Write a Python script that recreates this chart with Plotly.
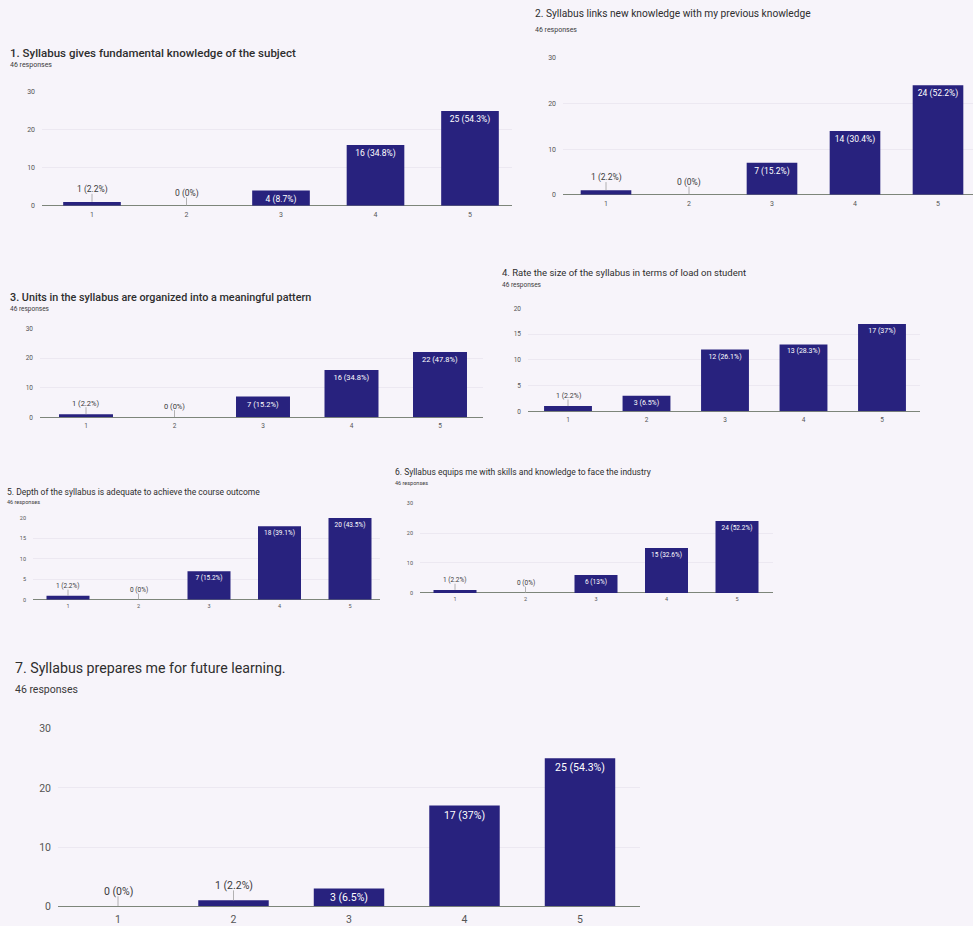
import plotly.graph_objects as go

W, H = 973, 926

categories = ["1", "2", "3", "4", "5"]

titles = [
    "1. Syllabus gives fundamental knowledge of the subject",
    "2. Syllabus links new knowledge with my previous knowledge",
    "3. Units in the syllabus are organized into a meaningful pattern",
    "4. Rate the size of the syllabus in terms of load on student",
    "5. Depth of the syllabus is adequate to achieve the course outcome",
    "6. Syllabus equips me with skills and knowledge to face the industry",
    "7. Syllabus prepares me for future learning.",
]
responses = "46 responses"

q1_counts = [1, 0, 4, 16, 25]
q1_labels = ["1 (2.2%)", "0 (0%)", "4 (8.7%)", "16 (34.8%)", "25 (54.3%)"]
q2_counts = [1, 0, 7, 14, 24]
q2_labels = ["1 (2.2%)", "0 (0%)", "7 (15.2%)", "14 (30.4%)", "24 (52.2%)"]
q3_counts = [1, 0, 7, 16, 22]
q3_labels = ["1 (2.2%)", "0 (0%)", "7 (15.2%)", "16 (34.8%)", "22 (47.8%)"]
q4_counts = [1, 3, 12, 13, 17]
q4_labels = ["1 (2.2%)", "3 (6.5%)", "12 (26.1%)", "13 (28.3%)", "17 (37%)"]
q5_counts = [1, 0, 7, 18, 20]
q5_labels = ["1 (2.2%)", "0 (0%)", "7 (15.2%)", "18 (39.1%)", "20 (43.5%)"]
q6_counts = [1, 0, 6, 15, 24]
q6_labels = ["1 (2.2%)", "0 (0%)", "6 (13%)", "15 (32.6%)", "24 (52.2%)"]
q7_counts = [0, 1, 3, 17, 25]
q7_labels = ["0 (0%)", "1 (2.2%)", "3 (6.5%)", "17 (37%)", "25 (54.3%)"]

y_max = [30, 30, 30, 20, 20, 30, 30]
y_dtick = [10, 10, 10, 5, 5, 10, 10]

counts = [q1_counts, q2_counts, q3_counts, q4_counts, q5_counts, q6_counts, q7_counts]
labels = [q1_labels, q2_labels, q3_labels, q4_labels, q5_labels, q6_labels, q7_labels]

# layout geometry in page pixels (style/position only)
geom = [
    dict(c0=92, c4=470, l=42, r=512, y0=205, yt=91, tx=8, ty=52, ry=64, ts=11.5, tw=500, rs=7, ks=7, ls=8.5),
    dict(c0=606, c4=938, l=563, r=973, y0=194, yt=57, tx=533, ty=12, ry=29, ts=10.2, tw=400, rs=7, ks=7, ls=8.5),
    dict(c0=86, c4=440, l=40, r=483, y0=417, yt=328, tx=8, ty=297, ry=309, ts=10.8, tw=500, rs=6.5, ks=6.5, ls=7.5),
    dict(c0=568, c4=882, l=528, r=920, y0=411, yt=308, tx=500, ty=272, ry=284, ts=9.5, tw=400, rs=6.5, ks=6.5, ls=7),
    dict(c0=68, c4=350, l=33, r=380, y0=600, yt=518, tx=5, ty=492, ry=502, ts=8.5, tw=400, rs=5.5, ks=5.5, ls=6.5),
    dict(c0=455, c4=737, l=420, r=773, y0=593, yt=503, tx=393, ty=472, ry=483, ts=8.5, tw=400, rs=5.5, ks=5.5, ls=6.5),
    dict(c0=118, c4=580, l=58, r=640, y0=907, yt=729, tx=13, ty=668, ry=690, ts=14.2, tw=400, rs=10.5, ks=10.5, ls=10.5),
]


def yfrac(py):
    # vertical page position -> paper fraction (small compensation for the capture)
    return 1 - ((py - 4.9) / 0.988) / H


BAR = "#28227e"
TEXT = "#3a3a3a"
BG = "#f7f4fa"
FONT = "Roboto, Arial, sans-serif"

fig = go.Figure()
annotations = []
shapes = []

for i in range(7):
    g = geom[i]
    n = i + 1
    xa = "x" if n == 1 else f"x{n}"
    ya = "y" if n == 1 else f"y{n}"
    sp = (g["c4"] - g["c0"]) / 4.0
    rng_l = -(g["c0"] - g["l"]) / sp
    rng_r = 4 + (g["r"] - g["c4"]) / sp
    vals = counts[i]
    ymx = y_max[i]
    px_per_unit = (g["y0"] - g["yt"]) / ymx
    inside = [v * px_per_unit > g["ls"] + 6 for v in vals]
    bar_text = [t if f else "" for t, f in zip(labels[i], inside)]
    fig.add_trace(go.Bar(
        x=list(range(5)), y=vals, text=bar_text,
        textposition="inside", insidetextanchor="end",
        textfont=dict(size=g["ls"], color="white", family=FONT),
        constraintext="none", cliponaxis=False,
        marker=dict(color=BAR, line=dict(width=0)),
        width=0.61, xaxis=xa, yaxis=ya, showlegend=False,
        hoverinfo="skip",
    ))
    # labels above small bars with a short leader line
    for k, v in enumerate(vals):
        if not inside[k]:
            shapes.append(dict(
                type="line", xref=xa, yref=ya, x0=k, x1=k,
                ysizemode="pixel", yanchor=v, y0=0, y1=g["ls"] * 0.95,
                line=dict(color="#a0a0a0", width=0.8),
            ))
            annotations.append(dict(
                text=labels[i][k], xref=xa, yref=ya, x=k, y=v,
                yshift=g["ls"] * 1.45, xanchor="center", yanchor="middle",
                showarrow=False,
                font=dict(size=g["ls"], color=TEXT, family=FONT),
            ))
    key_x = "xaxis" if n == 1 else f"xaxis{n}"
    key_y = "yaxis" if n == 1 else f"yaxis{n}"
    fig.layout[key_x] = dict(
        domain=[g["l"] / W, min(g["r"] / W, 1.0)],
        range=[rng_l, rng_r], anchor=ya,
        tickmode="array", tickvals=list(range(5)), ticktext=categories,
        showgrid=False, zeroline=False, showline=False, ticks="",
        tickfont=dict(size=g["ks"], color="#555555", family=FONT),
        ticklabelstandoff=int(round(g["ks"] * 0.45)), fixedrange=True,
    )
    fig.layout[key_y] = dict(
        domain=[yfrac(g["y0"]), yfrac(g["yt"])],
        range=[0, ymx], anchor=xa, dtick=y_dtick[i], tick0=0,
        showgrid=True, gridcolor="#ece8f1", gridwidth=0.8,
        zeroline=True, zerolinecolor="#7d857a", zerolinewidth=1,
        showline=False, ticks="",
        tickfont=dict(size=g["ks"], color="#555555", family=FONT),
        ticklabelstandoff=6, fixedrange=True,
    )
    annotations.append(dict(
        text=titles[i], xref="paper", yref="paper",
        x=g["tx"] / W, y=yfrac(g["ty"]), xanchor="left", yanchor="middle",
        showarrow=False,
        font=dict(size=g["ts"], color="#2e2e2e", family=FONT, weight=g["tw"]),
    ))
    annotations.append(dict(
        text=responses, xref="paper", yref="paper",
        x=g["tx"] / W, y=yfrac(g["ry"]), xanchor="left", yanchor="middle",
        showarrow=False, font=dict(size=g["rs"], color="#3a3a3a", family=FONT),
    ))

fig.update_layout(
    autosize=True,
    margin=dict(l=0, r=0, t=0, b=0),
    paper_bgcolor=BG, plot_bgcolor=BG,
    annotations=annotations, shapes=shapes,
)

post = ("document.documentElement.style.margin='0';"
        "document.documentElement.style.overflow='hidden';"
        "document.body.style.margin='0';document.body.style.overflow='hidden';"
        "document.body.style.background='" + BG + "';")

fig.write_html(
    "out.html",
    config={"displayModeBar": False, "responsive": True},
    default_width="100vw", default_height="100vh",
    post_script=post,
)
